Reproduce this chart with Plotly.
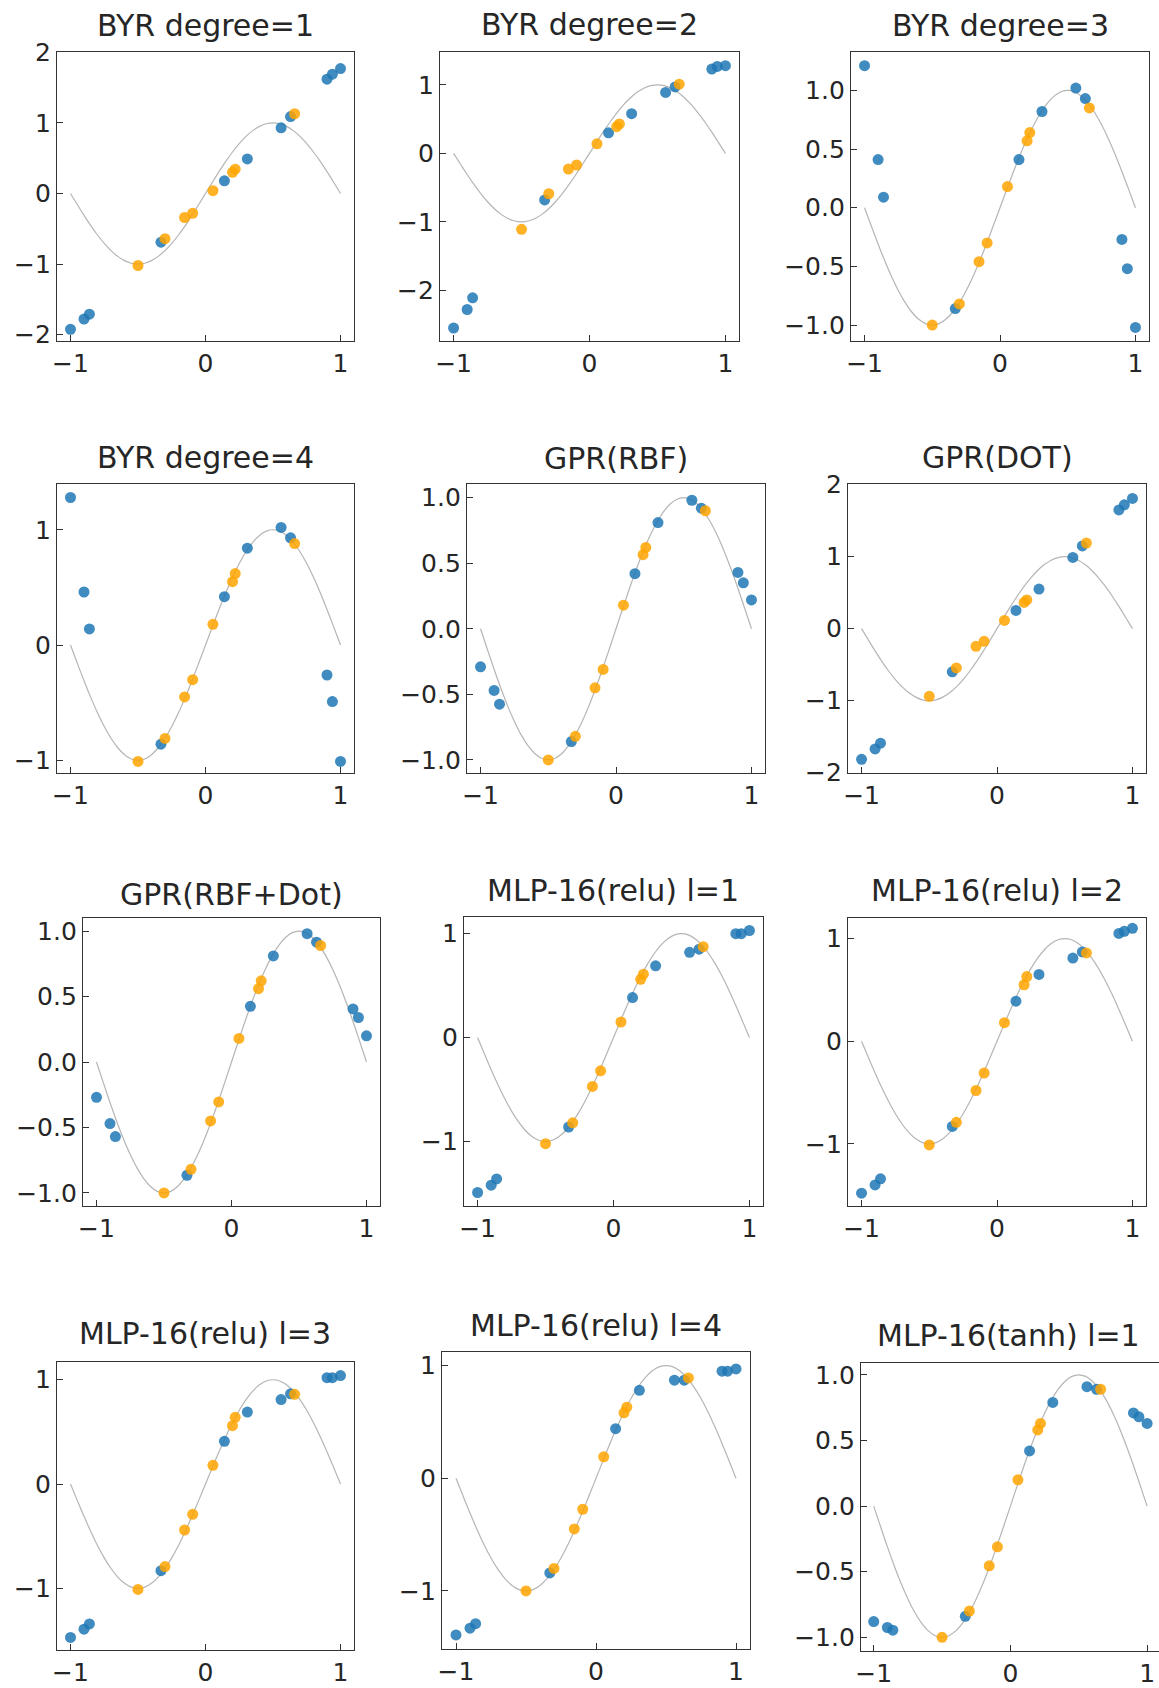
import plotly.graph_objects as go

# ---------------- data ----------------
titles = ["BYR degree=1", "BYR degree=2", "BYR degree=3",
          "BYR degree=4", "GPR(RBF)", "GPR(DOT)",
          "GPR(RBF+Dot)", "MLP-16(relu) l=1", "MLP-16(relu) l=2",
          "MLP-16(relu) l=3", "MLP-16(relu) l=4", "MLP-16(tanh) l=1"]

# true function curve
curve_x = [-1.00, -0.95, -0.90, -0.85, -0.80, -0.75, -0.70, -0.65, -0.60, -0.55,
           -0.50, -0.45, -0.40, -0.35, -0.30, -0.25, -0.20, -0.15, -0.10, -0.05,
           0.00, 0.05, 0.10, 0.15, 0.20, 0.25, 0.30, 0.35, 0.40, 0.45,
           0.50, 0.55, 0.60, 0.65, 0.70, 0.75, 0.80, 0.85, 0.90, 0.95, 1.00]
curve_y = [0.000, -0.156, -0.309, -0.454, -0.588, -0.707, -0.809, -0.891, -0.951, -0.988,
           -1.000, -0.988, -0.951, -0.891, -0.809, -0.707, -0.588, -0.454, -0.309, -0.156,
           0.000, 0.156, 0.309, 0.454, 0.588, 0.707, 0.809, 0.891, 0.951, 0.988,
           1.000, 0.988, 0.951, 0.891, 0.809, 0.707, 0.588, 0.454, 0.309, 0.156, 0.000]

x_train = [-0.5, -0.3, -0.155, -0.095, 0.055, 0.2, 0.22, 0.66]
x_test = [-1.0, -0.9, -0.86, -0.33, 0.14, 0.31, 0.56, 0.63, 0.9, 0.94, 1.0]

train_pred = [
    [-1.02, -0.64, -0.34, -0.28, 0.04, 0.30, 0.345, 1.13],
    [-1.11, -0.59, -0.23, -0.17, 0.14, 0.39, 0.43, 1.01],
    [-1.00, -0.82, -0.46, -0.30, 0.18, 0.57, 0.64, 0.85],
    [-1.01, -0.81, -0.45, -0.30, 0.18, 0.55, 0.62, 0.88],
    [-1.00, -0.82, -0.45, -0.31, 0.18, 0.565, 0.62, 0.90],
    [-0.94, -0.545, -0.245, -0.175, 0.115, 0.365, 0.40, 1.19],
    [-1.00, -0.82, -0.45, -0.305, 0.18, 0.56, 0.62, 0.89],
    [-1.02, -0.82, -0.47, -0.32, 0.15, 0.56, 0.61, 0.875],
    [-1.01, -0.79, -0.48, -0.31, 0.18, 0.55, 0.63, 0.86],
    [-1.01, -0.79, -0.44, -0.29, 0.18, 0.56, 0.64, 0.86],
    [-1.00, -0.80, -0.45, -0.275, 0.19, 0.58, 0.63, 0.89],
    [-1.00, -0.80, -0.455, -0.31, 0.20, 0.58, 0.63, 0.89],
]
test_pred = [
    [-1.925, -1.78, -1.71, -0.69, 0.18, 0.49, 0.93, 1.09, 1.62, 1.69, 1.77],
    [-2.55, -2.28, -2.11, -0.68, 0.30, 0.58, 0.89, 0.97, 1.23, 1.27, 1.28],
    [1.21, 0.41, 0.09, -0.86, 0.41, 0.82, 1.02, 0.93, -0.27, -0.52, -1.02],
    [1.28, 0.46, 0.14, -0.86, 0.42, 0.84, 1.02, 0.93, -0.26, -0.49, -1.01],
    [-0.29, -0.47, -0.575, -0.86, 0.42, 0.81, 0.98, 0.92, 0.43, 0.35, 0.22],
    [-1.815, -1.67, -1.59, -0.60, 0.254, 0.55, 0.99, 1.15, 1.65, 1.72, 1.81],
    [-0.27, -0.47, -0.57, -0.865, 0.425, 0.81, 0.98, 0.915, 0.405, 0.34, 0.20],
    [-1.49, -1.42, -1.36, -0.86, 0.385, 0.69, 0.82, 0.85, 1.00, 1.00, 1.03],
    [-1.48, -1.40, -1.34, -0.83, 0.39, 0.65, 0.81, 0.87, 1.05, 1.07, 1.10],
    [-1.47, -1.39, -1.34, -0.83, 0.41, 0.69, 0.81, 0.865, 1.02, 1.02, 1.04],
    [-1.39, -1.33, -1.29, -0.84, 0.44, 0.78, 0.87, 0.87, 0.95, 0.95, 0.97],
    [-0.88, -0.925, -0.945, -0.84, 0.42, 0.79, 0.91, 0.89, 0.71, 0.68, 0.63],
]

x_tickvals = [-1, 0, 1]
x_ticktext = ["\u22121", "0", "1"]
ticks_int2 = ([-2, -1, 0, 1, 2], ["\u22122", "\u22121", "0", "1", "2"])
ticks_int1 = ([-1, 0, 1], ["\u22121", "0", "1"])
ticks_half = ([-1.0, -0.5, 0.0, 0.5, 1.0], ["\u22121.0", "\u22120.5", "0.0", "0.5", "1.0"])
y_ticks = [ticks_int2, ticks_int2, ticks_half, ticks_int1, ticks_half, ticks_int2,
           ticks_half, ticks_int1, ticks_int1, ticks_int1, ticks_int1, ticks_half]

# ---------------- layout (pixel boxes) ----------------
W, H = 1159, 1688
boxes = [(57, 52, 354, 341), (440, 52, 739, 341), (851, 52, 1149, 341),
         (57, 484, 354, 773), (467, 484, 765, 773), (848, 484, 1146, 773),
         (83, 918, 380, 1206), (464, 917, 763, 1206), (848, 918, 1146, 1206),
         (57, 1362, 354, 1650), (442, 1352, 750, 1649), (861, 1363, 1159, 1651)]
title_pos = [(205, 25), (589, 24), (1000, 25), (205, 457), (616, 458), (997, 457),
             (231, 894), (613, 890), (997, 890), (205, 1333), (596, 1325), (1008, 1335)]
y_ranges = [(-2.09, 2.005), (-2.74, 1.48), (-1.136, 1.327), (-1.11, 1.397),
            (-1.10, 1.104), (-2.005, 2.01), (-1.10, 1.10), (-1.62, 1.16),
            (-1.605, 1.20), (-1.59, 1.17), (-1.515, 1.12), (-1.104, 1.09)]
x_ranges = [(-1.1, 1.1)] * 11 + [(-1.093, 1.087)]

BLUE = "rgba(31,119,180,0.85)"
ORANGE = "rgba(255,165,0,0.85)"
LINE = "rgba(120,120,120,0.55)"
AXC = "#333333"
FONT = "DejaVu Sans"

fig = go.Figure()
layout = dict(template="none", width=W, height=H, autosize=False,
              margin=dict(l=0, r=0, t=0, b=0, pad=0),
              paper_bgcolor="white", plot_bgcolor="white", showlegend=False,
              annotations=[])

for i in range(12):
    n = i + 1
    xa = "x" if n == 1 else f"x{n}"
    ya = "y" if n == 1 else f"y{n}"
    fig.add_trace(go.Scatter(x=curve_x, y=curve_y, mode="lines", xaxis=xa, yaxis=ya,
                             line=dict(color=LINE, width=1.2, shape="spline"),
                             hoverinfo="skip"))
    fig.add_trace(go.Scatter(x=x_test, y=test_pred[i], mode="markers", xaxis=xa, yaxis=ya,
                             marker=dict(color=BLUE, size=11, line=dict(width=0))))
    fig.add_trace(go.Scatter(x=x_train, y=train_pred[i], mode="markers", xaxis=xa, yaxis=ya,
                             marker=dict(color=ORANGE, size=11, line=dict(width=0))))
    l, t, r, b = boxes[i]
    xdom = [l / W, min(r / W, 1.0)]
    ydom = [1 - b / H, 1 - t / H]
    common = dict(showline=True, linecolor=AXC, linewidth=1.3, ticks="inside",
                  ticklen=6, tickwidth=1.2, tickcolor=AXC, showgrid=False,
                  zeroline=False, automargin=False,
                  tickfont=dict(family=FONT, size=25, color="#262626"))
    layout["xaxis" if n == 1 else f"xaxis{n}"] = dict(
        domain=xdom, range=list(x_ranges[i]), anchor=ya, mirror=True,
        tickmode="array", tickvals=x_tickvals, ticktext=x_ticktext, **common)
    tv, tt = y_ticks[i]
    layout["yaxis" if n == 1 else f"yaxis{n}"] = dict(
        domain=ydom, range=list(y_ranges[i]), anchor=xa,
        mirror=(n != 12), tickmode="array", tickvals=tv, ticktext=tt, **common)
    cx, cy = title_pos[i]
    layout["annotations"].append(dict(
        text=titles[i], xref="paper", yref="paper", x=cx / W, y=1 - cy / H,
        xanchor="center", yanchor="middle", showarrow=False,
        font=dict(family=FONT, size=30, color="#262626")))

fig.update_layout(**layout)
fig.write_html("out.html", config={"displayModeBar": False},
               post_script="document.body.style.margin='0';document.body.style.overflow='hidden';")
